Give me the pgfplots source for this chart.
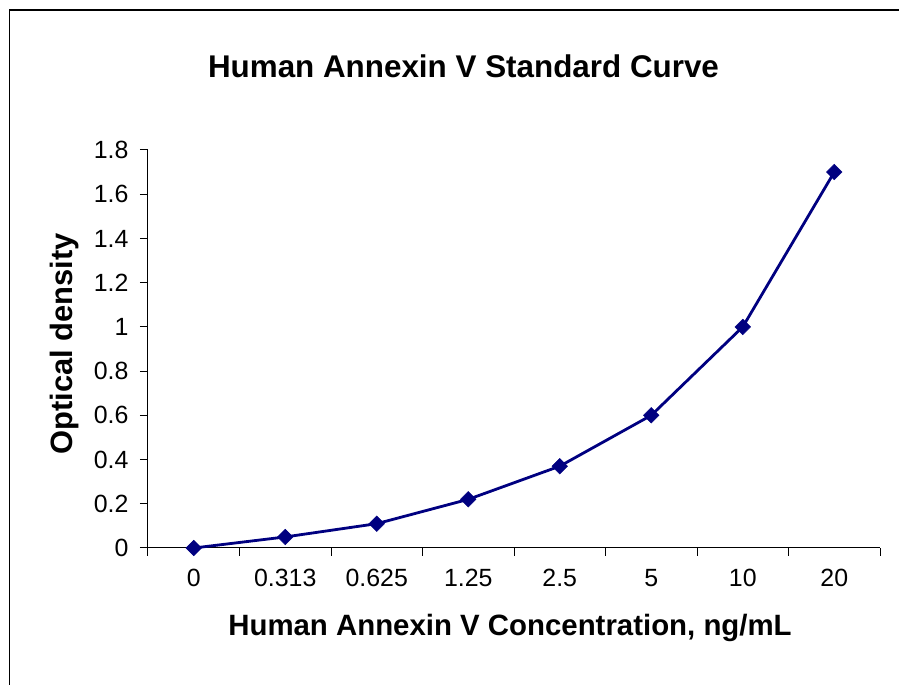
\documentclass[border=0pt]{standalone}
\usepackage{fontspec}
\setmainfont{Liberation Sans}
\usepackage{pgfplots}
\pgfplotsset{compat=1.18}
\definecolor{navy}{RGB}{0,0,128}
\begin{document}
\begin{tikzpicture}[x=1bp,y=1bp]
\useasboundingbox (-148,-137) rectangle (751,548);
\draw[line width=1.6bp] (-138.5,-140) -- (-138.5,538) -- (760,538);
\begin{axis}[
  at={(0,0)}, anchor=south west,
  scale only axis, width=732bp, height=398bp,
  xmin=-0.5, xmax=7.5, ymin=0, ymax=1.8,
  axis x line=bottom, axis y line=left,
  axis line style={-, line width=1bp, black},
  xtick={0,...,7},
  xticklabels={0,0.313,0.625,1.25,2.5,5,10,20},
  minor xtick={-0.5,0.5,...,7.5},
  ytick={0,0.2,...,1.8},
  yticklabels={0,0.2,0.4,0.6,0.8,1,1.2,1.4,1.6,1.8},
  tick align=outside,
  major tick length=8bp, minor tick length=8bp,
  x tick style={draw=none},
  minor x tick style={draw=black, line width=1bp},
  y tick style={line width=1bp, black},
  tick label style={font=\fontsize{25}{29}\selectfont},
  yticklabel style={xshift=-8bp},
  xticklabel style={yshift=-10bp},
  clip=false,
]
\addplot[navy, line width=2.8bp, mark=square*, mark size=5.5bp,
  mark options={rotate=45, fill=navy, draw=navy, line width=0.5bp}]
  coordinates {(0,0) (1,0.05) (2,0.11) (3,0.22) (4,0.37) (5,0.60) (6,1.00) (7,1.70)};
\end{axis}
\node[anchor=base, font=\bfseries\fontsize{31.5}{35}\selectfont] at (315.5,470) {Human Annexin V Standard Curve};
\node[anchor=base, font=\bfseries\fontsize{29.5}{33}\selectfont] at (362,-88) {Human Annexin V Concentration, ng/mL};
\node[anchor=base, rotate=90, font=\bfseries\fontsize{31}{35}\selectfont] at (-75,204) {Optical density};
\end{tikzpicture}
\end{document}
